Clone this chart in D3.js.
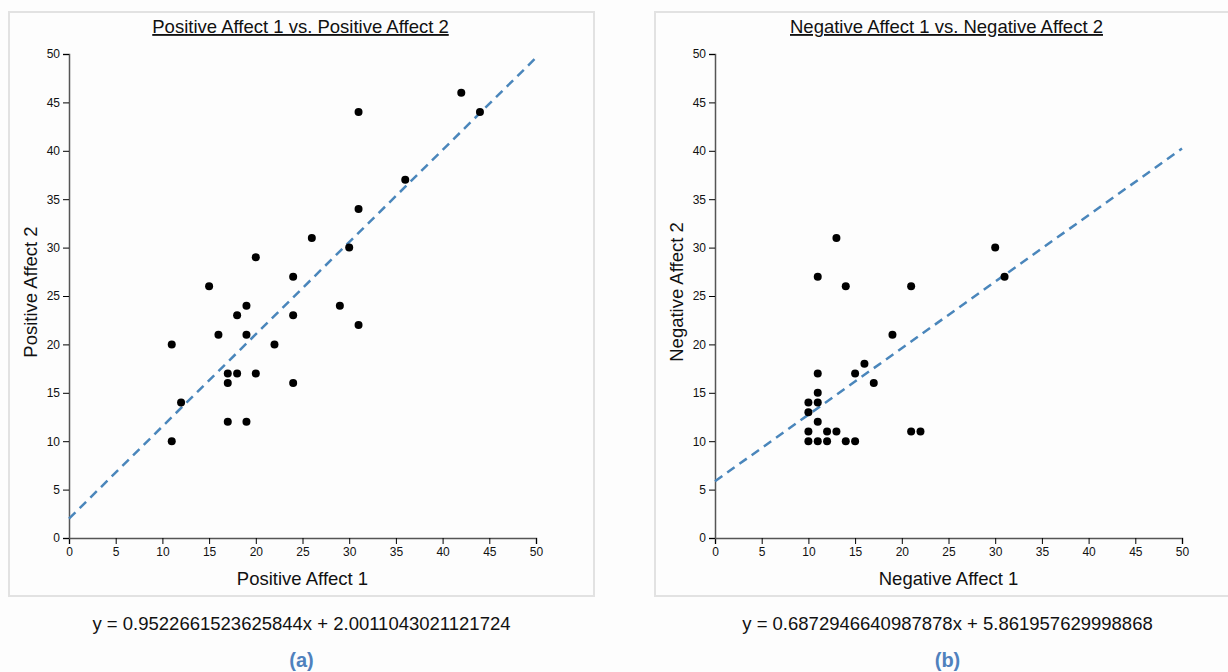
<!DOCTYPE html>
<html>
<head>
<meta charset="utf-8">
<script src="https://cdn.jsdelivr.net/npm/d3@7"></script>
<style>
  body { margin: 0; background: #fdfdfd; }
  svg { display: block; font-family: "Liberation Sans", Arial, sans-serif; }
</style>
</head>
<body>
<svg id="chart" width="1228" height="672"></svg>
<script>
// positive affect pairs
const posX = [11, 11, 12, 15, 16, 17, 17, 17, 18, 18, 19, 19, 19, 20, 20, 22, 24, 24, 24, 26, 29, 30, 31, 31, 31, 36, 42, 44]
const posY = [20, 10, 14, 26, 21, 17, 16, 12, 23, 17, 24, 21, 12, 29, 17, 20, 27, 23, 16, 31, 24, 30, 44, 34, 22, 37, 46, 44]
// negative affect pairs
const negX = [10, 10, 10, 10, 11, 11, 11, 11, 11, 11, 12, 12, 13, 13, 14, 14, 15, 15, 16, 17, 19, 21, 21, 22, 30, 31]
const negY = [14, 13, 11, 10, 27, 17, 15, 14, 12, 10, 11, 10, 31, 11, 26, 10, 17, 10, 18, 16, 21, 26, 11, 11, 30, 27]

const fits = [
  { slope: 0.9522661523625844, intercept: 2.0011043021121724 },
  { slope: 0.6872946640987878, intercept: 5.861957629998868 }
]
const titles = ['Positive Affect 1 vs. Positive Affect 2', 'Negative Affect 1 vs. Negative Affect 2']
const xLabels = ['Positive Affect 1', 'Negative Affect 1']
const yLabels = ['Positive Affect 2', 'Negative Affect 2']
const captions = ['(a)', '(b)']
const domain = [0, 50]

const svg = d3.select('#chart')
const margin = { left: 60, top: 42 }
const plotW = 467
const plotH = 484
const panelW = 585
const panelH = 584

const x = d3.scaleLinear().domain(domain).range([0, plotW])
const y = d3.scaleLinear().domain(domain).range([plotH, 0])

const styleAxis = a => {
  a.attr('font-size', 12).attr('font-family', '"Liberation Sans", Arial, sans-serif')
  a.select('.domain').attr('stroke', '#555').attr('stroke-width', 1.5)
  a.selectAll('.tick text').attr('fill', '#111')
}

const buildPanel = (i, xs, ys) => {
  const offset = 9 + i * 646
  const panel = svg.append('g').attr('transform', `translate(${offset},12)`)

  panel.append('rect')
    .attr('width', panelW)
    .attr('height', panelH)
    .attr('fill', '#fdfdfd')
    .attr('stroke', '#e2e2e2')
    .attr('stroke-width', 2)

  panel.append('text')
    .attr('x', panelW / 2 - 1)
    .attr('y', 21)
    .attr('text-anchor', 'middle')
    .attr('font-size', '18.5px')
    .attr('text-decoration', 'underline')
    .attr('fill', '#111')
    .text(titles[i])

  const g = panel.append('g').attr('transform', `translate(${margin.left},${margin.top})`)

  g.append('g')
    .attr('transform', `translate(0,${plotH})`)
    .call(d3.axisBottom(x).ticks(10))
    .call(styleAxis)

  g.append('g')
    .call(d3.axisLeft(y).ticks(10))
    .call(styleAxis)

  const line = d3.line()
    .x(d => x(d))
    .y(d => y(fits[i].slope * d + fits[i].intercept))

  g.append('path')
    .datum(domain)
    .attr('d', line)
    .attr('fill', 'none')
    .attr('stroke', '#4a86bb')
    .attr('stroke-width', 2.5)
    .attr('stroke-dasharray', '9,6')

  g.append('g')
    .selectAll('circle')
    .data(d3.zip(xs, ys))
    .join('circle')
    .attr('cx', d => x(d[0]))
    .attr('cy', d => y(d[1]))
    .attr('r', 4)
    .attr('fill', '#000')

  g.append('text')
    .attr('x', plotW / 2)
    .attr('y', plotH + 47)
    .attr('text-anchor', 'middle')
    .attr('font-size', '18.5px')
    .attr('fill', '#111')
    .text(xLabels[i])

  g.append('text')
    .attr('transform', `translate(${-32},${plotH / 2 - 4}) rotate(-90)`)
    .attr('text-anchor', 'middle')
    .attr('font-size', '18.5px')
    .attr('fill', '#111')
    .text(yLabels[i])

  svg.append('text')
    .attr('x', offset + panelW / 2)
    .attr('y', 630)
    .attr('text-anchor', 'middle')
    .attr('font-size', '18.5px')
    .attr('fill', '#111')
    .text(`y = ${fits[i].slope}x + ${fits[i].intercept}`)

  svg.append('text')
    .attr('x', offset + panelW / 2)
    .attr('y', 667)
    .attr('text-anchor', 'middle')
    .attr('font-size', '20px')
    .attr('font-weight', 'bold')
    .attr('fill', '#4f81bd')
    .text(captions[i])
}

buildPanel(0, posX, posY)
buildPanel(1, negX, negY)
</script>
</body>
</html>
